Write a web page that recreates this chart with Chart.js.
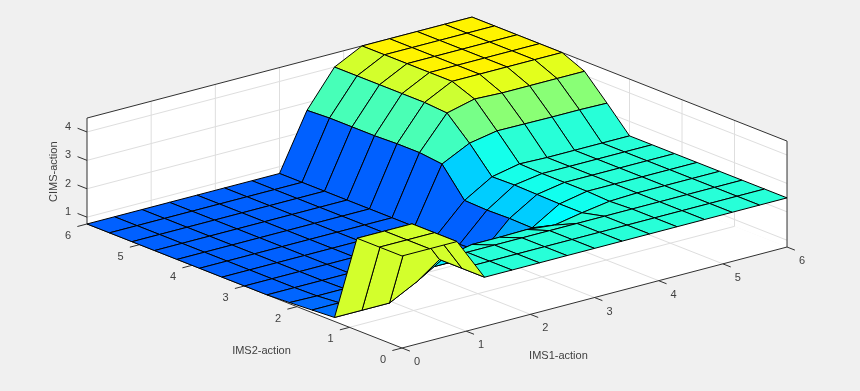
<!DOCTYPE html>
<html>
<head>
<meta charset="utf-8">
<title>CIMS-action surface</title>
<script src="https://cdn.jsdelivr.net/npm/chart.js@4"></script>
<style>
    html, body { margin: 0; padding: 0; background: #f0f0f0; overflow: hidden; }
    canvas { display: block; }
</style>
</head>
<body>
<canvas id="chart" width="860" height="391"></canvas>
<script>
// grid of the surface, same on both inputs
const gridIms = [0, 0.4286, 0.8571, 1.2857, 1.7143, 2.1429, 2.5714, 3, 3.4286, 3.8571, 4.2857, 4.7143, 5.1429, 5.5714, 6];

// CIMS-action, one list per IMS2-action grid value, read along IMS1-action
const cims00 = [4, 4, 4, 2.49, 2.49, 2.49, 2.49, 2.49, 2.49, 2.49, 2.49, 2.49, 2.49, 2.49, 2.49];
const cims01 = [4, 4, 4, 2.49, 2.49, 2.49, 2.49, 2.49, 2.49, 2.49, 2.49, 2.49, 2.49, 2.49, 2.49];
const cims02 = [4, 4, 4, 2.49, 2.49, 2.49, 2.49, 2.49, 2.49, 2.49, 2.49, 2.49, 2.49, 2.49, 2.49];
const cims03 = [0.9, 0.9, 0.9, 1.4, 2, 2.2, 2.2, 2.22, 2.12, 2.3, 2.45, 2.49, 2.49, 2.49, 2.49];
const cims04 = [0.85, 0.85, 0.85, 0.85, 1.25, 1.25, 0.85, 1.39, 1.71, 2.3, 2.49, 2.49, 2.49, 2.49, 2.49];
const cims05 = [0.8, 0.78, 0.78, 0.78, 0.78, 0.78, 0.78, 0.8, 1.73, 2.32, 2.49, 2.49, 2.49, 2.49, 2.49];
const cims06 = [0.76, 0.76, 0.76, 0.76, 0.76, 0.76, 0.76, 0.76, 1.71, 2.34, 2.49, 2.49, 2.49, 2.49, 2.49];
const cims07 = [0.76, 0.76, 0.76, 0.76, 0.76, 0.76, 0.76, 0.78, 1.74, 2.32, 2.52, 2.49, 2.49, 2.49, 2.49];
const cims08 = [0.76, 0.76, 0.76, 0.76, 0.76, 0.76, 0.76, 0.76, 2.71, 3.19, 3.37, 3.36, 3.35, 3.35, 3.33];
const cims09 = [0.76, 0.76, 0.76, 0.76, 0.76, 0.76, 0.76, 0.76, 2.8, 3.94, 4.18, 4.14, 4.14, 4.14, 4.14];
const cims10 = [0.76, 0.76, 0.76, 0.76, 0.76, 0.76, 0.76, 0.76, 2.8, 4, 4.49, 4.49, 4.49, 4.49, 4.49];
const cims11 = [0.76, 0.76, 0.76, 0.76, 0.76, 0.76, 0.76, 0.76, 2.77, 4, 4.49, 4.49, 4.49, 4.49, 4.49];
const cims12 = [0.76, 0.76, 0.76, 0.76, 0.76, 0.76, 0.76, 0.76, 2.77, 4, 4.49, 4.49, 4.49, 4.49, 4.49];
const cims13 = [0.76, 0.76, 0.76, 0.76, 0.76, 0.76, 0.76, 0.76, 2.77, 4, 4.49, 4.49, 4.49, 4.49, 4.49];
const cims14 = [0.76, 0.76, 0.76, 0.76, 0.76, 0.76, 0.76, 0.76, 2.73, 4, 4.49, 4.49, 4.49, 4.49, 4.49];
const cimsRows = [cims00, cims01, cims02, cims03, cims04, cims05, cims06, cims07, cims08, cims09, cims10, cims11, cims12, cims13, cims14];

const xTicks = [0, 1, 2, 3, 4, 5, 6];
const yTicks = [0, 1, 2, 3, 4, 5, 6];
const zTicks = [1, 2, 3, 4];
const xTitle = 'IMS1-action';
const yTitle = 'IMS2-action';
const zTitle = 'CIMS-action';

const xMax = 6, yMax = 6, zMin = 0.76, zMax = 4.49;

// colour limits of the jet map
const cLow = -1.2, cHigh = 7.73;

// 3D box to the chart's value space
function project(x, y, z) {
    return {
        x: 402 + 64.17 * x - 52.5 * y,
        y: 348 - 16.83 * x - 20.67 * y - 28.4 * (z - zMin)
    };
}

function jet(z) {
    const t = (z - cLow) / (cHigh - cLow);
    const c = v => Math.round(255 * Math.min(1, Math.max(0, v)));
    const r = c(Math.min(4 * t - 1.5, -4 * t + 4.5));
    const g = c(Math.min(4 * t - 0.5, -4 * t + 3.5));
    const b = c(Math.min(4 * t + 0.5, -4 * t + 2.5));
    return `rgb(${r},${g},${b})`;
}

function depth(x, y, z) {
    return 0.947 * (0.63 * x + 0.777 * y) - 0.115 * z;
}

function polygon(points, fillColor, lineColor, lineWidth) {
    return {
        data: points.concat([points[0]]),
        showLine: true,
        fill: 'shape',
        backgroundColor: fillColor,
        borderColor: lineColor,
        borderWidth: lineWidth,
        pointRadius: 0,
        tension: 0
    };
}

function segment(a, b, lineColor) {
    return {
        data: [a, b],
        showLine: true,
        fill: false,
        borderColor: lineColor,
        borderWidth: 1,
        pointRadius: 0,
        tension: 0
    };
}

function buildDatasets() {
    const list = [];
    const gridColor = '#dedede';
    const axisColor = '#303030';

    // walls and floor
    list.push(polygon([project(0, 0, zMin), project(xMax, 0, zMin), project(xMax, yMax, zMin), project(0, yMax, zMin)], '#ffffff', '#ffffff', 0));
    list.push(polygon([project(0, yMax, zMin), project(xMax, yMax, zMin), project(xMax, yMax, zMax), project(0, yMax, zMax)], '#ffffff', '#ffffff', 0));
    list.push(polygon([project(xMax, 0, zMin), project(xMax, yMax, zMin), project(xMax, yMax, zMax), project(xMax, 0, zMax)], '#ffffff', '#ffffff', 0));

    // grid lines
    xTicks.slice(1, -1).forEach(v => {
        list.push(segment(project(v, 0, zMin), project(v, yMax, zMin), gridColor));
        list.push(segment(project(v, yMax, zMin), project(v, yMax, zMax), gridColor));
    });
    yTicks.slice(1, -1).forEach(v => {
        list.push(segment(project(0, v, zMin), project(xMax, v, zMin), gridColor));
        list.push(segment(project(xMax, v, zMin), project(xMax, v, zMax), gridColor));
    });
    zTicks.forEach(v => {
        list.push(segment(project(0, yMax, v), project(xMax, yMax, v), gridColor));
        list.push(segment(project(xMax, yMax, v), project(xMax, 0, v), gridColor));
    });

    // box edges and tick marks
    list.push(segment(project(0, 0, zMin), project(xMax, 0, zMin), axisColor));
    list.push(segment(project(0, 0, zMin), project(0, yMax, zMin), axisColor));
    list.push(segment(project(0, yMax, zMin), project(0, yMax, zMax), axisColor));
    list.push(segment(project(xMax, 0, zMin), project(xMax, 0, zMax), axisColor));
    list.push(segment(project(0, yMax, zMax), project(xMax, yMax, zMax), axisColor));
    list.push(segment(project(xMax, yMax, zMax), project(xMax, 0, zMax), axisColor));
    xTicks.forEach(v => list.push(segment(project(v, 0, zMin), project(v, -0.15, zMin), axisColor)));
    yTicks.forEach(v => list.push(segment(project(0, v, zMin), project(-0.15, v, zMin), axisColor)));
    zTicks.forEach(v => list.push(segment(project(0, yMax, v), project(0, yMax + 0.18, v), axisColor)));

    // surface cells, the furthest first
    const cells = [];
    for (let j = 0; j < gridIms.length - 1; j++) {
        for (let i = 0; i < gridIms.length - 1; i++) {
            const zs = [cimsRows[j][i], cimsRows[j][i + 1], cimsRows[j + 1][i + 1], cimsRows[j + 1][i]];
            const xs = [gridIms[i], gridIms[i + 1], gridIms[i + 1], gridIms[i]];
            const ys = [gridIms[j], gridIms[j], gridIms[j + 1], gridIms[j + 1]];
            const points = xs.map((x, k) => project(x, ys[k], zs[k]));
            const d = xs.reduce((sum, x, k) => sum + depth(x, ys[k], zs[k]), 0) / 4;
            cells.push({ d: d, dataset: polygon(points, jet(cimsRows[j][i]), '#000000', 1) });
        }
    }
    cells.sort((a, b) => b.d - a.d);
    cells.forEach(c => list.push(c.dataset));

    // the library paints the first dataset last
    return list.reverse();
}

const axisText = {
    id: 'axisText',
    afterDraw(chart) {
        const ctx = chart.ctx;
        const sx = chart.scales.x, sy = chart.scales.y;
        const put = (text, p, dx, dy, angle) => {
            ctx.save();
            ctx.translate(sx.getPixelForValue(p.x) + dx, sy.getPixelForValue(p.y) + dy);
            if (angle) ctx.rotate(angle);
            ctx.fillText(text, 0, 0);
            ctx.restore();
        };
        ctx.save();
        ctx.font = '11px "Liberation Sans"';
        ctx.fillStyle = '#404040';
        ctx.textAlign = 'center';
        ctx.textBaseline = 'middle';
        xTicks.forEach(v => put(String(v), project(v, 0, zMin), 15, 14));
        yTicks.forEach(v => put(String(v), project(0, v, zMin), -19, 12));
        zTicks.forEach(v => put(String(v), project(0, yMax, v), -19, -5));
        put(xTitle, project(2.5, 0, zMin), -4, 50);
        put(yTitle, project(0, 3, zMin), 17, 65);
        put(zTitle, project(0, yMax, 2.6), -33, 0, -Math.PI / 2);
        ctx.restore();
    }
};

new Chart(document.getElementById('chart'), {
    type: 'scatter',
    data: { datasets: buildDatasets() },
    options: {
        responsive: false,
        animation: false,
        layout: { padding: 0 },
        plugins: { legend: { display: false }, tooltip: { enabled: false } },
        scales: {
            x: { type: 'linear', min: 0, max: 860, display: false },
            y: { type: 'linear', min: 0, max: 391, reverse: true, display: false }
        }
    },
    plugins: [axisText]
});
</script>
</body>
</html>
